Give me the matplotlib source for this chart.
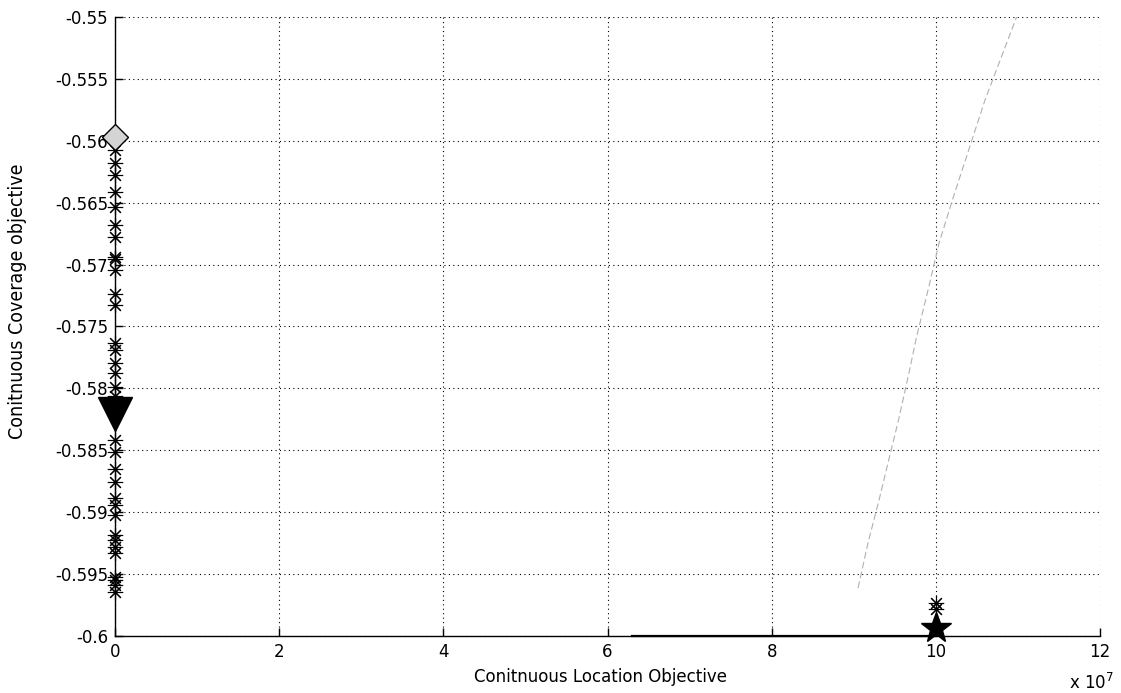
import matplotlib.pyplot as plt
from matplotlib.ticker import FuncFormatter

plt.rcParams['font.family'] = ['DejaVu Sans']

# asterisk points along x = 0
star_pts_x = [0] * 34
star_pts_y = [-0.56074, -0.56179, -0.56276, -0.56414, -0.56532, -0.56680,
              -0.56775, -0.56936, -0.56955, -0.57044, -0.57237, -0.57326,
              -0.57631, -0.57690, -0.57795, -0.57873, -0.57986, -0.58061,
              -0.58215, -0.58417, -0.58511, -0.58651, -0.58754, -0.58885,
              -0.58942, -0.59023, -0.59184, -0.59225, -0.59279, -0.59330,
              -0.59521, -0.59548, -0.59588, -0.59642]
# asterisk points near x = 1e8
right_pts_x = [1.0e8, 1.0e8]
right_pts_y = [-0.59731, -0.59782]

diamond_x, diamond_y = [0], [-0.5597]
tri_x, tri_y = [0], [-0.5821]
pent_x, pent_y = [1.0e8], [-0.59935]

bottom_x = [6.3e7, 1.0e8]
bottom_y = [-0.6, -0.6]

# faint trace on the right
faint_x = [9.052e7, 9.173e7, 9.308e7, 9.405e7, 9.551e7, 9.685e7, 9.770e7,
           9.905e7, 10.039e7, 10.209e7, 10.599e7, 11.062e7]
faint_y = [-0.59612, -0.59249, -0.58901, -0.58635, -0.58239, -0.57835,
           -0.57569, -0.57205, -0.56826, -0.56462, -0.55670, -0.54863]

fig = plt.figure(figsize=(11.21, 6.93), dpi=100)
ax = fig.add_axes([0.1026, 0.0823, 0.8787, 0.8932])

ax.plot(faint_x, faint_y, color='#b0b0b0', lw=0.8, ls=(0, (6, 3)))
ax.plot(bottom_x, bottom_y, color='black', lw=1.6, clip_on=False)
ax.plot(star_pts_x, star_pts_y, ls='none', marker=(8, 2, 0), ms=11,
        mec='black', mew=0.8, clip_on=False)
ax.plot(right_pts_x, right_pts_y, ls='none', marker=(8, 2, 0), ms=11,
        mec='black', mew=0.8, clip_on=False)
ax.plot(diamond_x, diamond_y, ls='none', marker='D', ms=13.5, mfc='#d4d4d4',
        mec='black', mew=1.0, clip_on=False, zorder=5)
ax.plot(tri_x, tri_y, ls='none', marker='v', ms=24, color='black',
        clip_on=False, zorder=5)
ax.plot(pent_x, pent_y, ls='none', marker='*', ms=23, color='black',
        clip_on=False, zorder=5)

ax.set_xlim(0, 12e7)
ax.set_ylim(-0.6, -0.55)
ax.set_xticks([i * 2e7 for i in range(7)])
ax.set_yticks([-0.6 + i * 0.005 for i in range(11)])
ax.xaxis.set_major_formatter(FuncFormatter(lambda v, p: '%g' % round(v / 1e7, 6)))
ax.yaxis.set_major_formatter(FuncFormatter(lambda v, p: '%g' % round(v, 6)))

ax.grid(True, color='black', ls=(0, (1, 3)), lw=0.8)
for s in ['top', 'right']:
    ax.spines[s].set_visible(False)
for s in ['left', 'bottom']:
    ax.spines[s].set_linewidth(1.0)
ax.tick_params(direction='in', length=6, labelsize=12, width=1.0, pad=5)

ax.set_xlabel('Conitnuous Location Objective', fontsize=12)
ax.set_ylabel('Conitnuous Coverage objective', fontsize=14, fontstretch='condensed')
ax.xaxis.set_label_coords(0.493, -0.052)
ax.yaxis.set_label_coords(-0.089, 0.54)
fig.text(0.974, 0.0, r'x 10$^7$', fontsize=12, ha='center', va='bottom')

fig.savefig('out.png', dpi=100)
